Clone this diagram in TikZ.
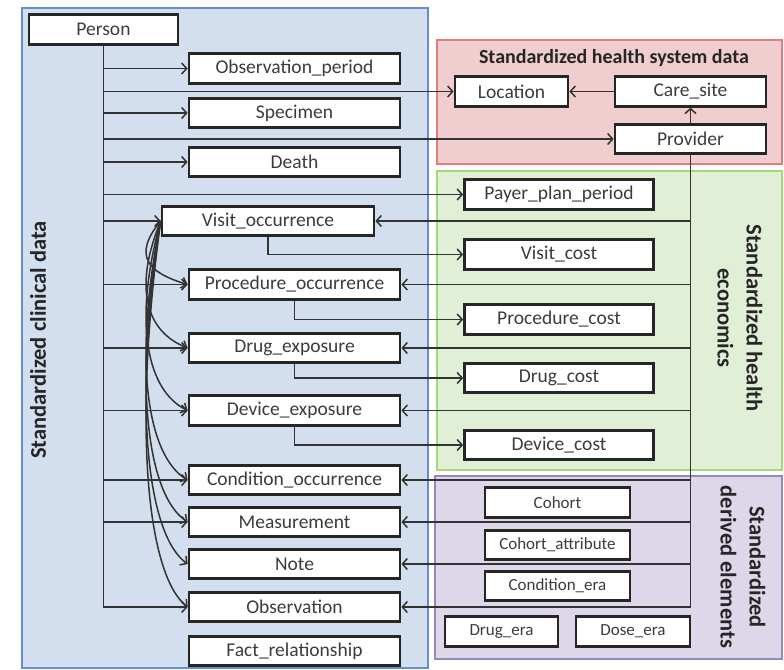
\documentclass[tikz,border=0pt]{standalone}
\usepackage{fontspec}
\setmainfont{Carlito}
\usetikzlibrary{arrows.meta,backgrounds}
\definecolor{bluefill}{RGB}{211,223,238}
\definecolor{blueedge}{RGB}{100,142,205}
\definecolor{redfill}{RGB}{240,205,207}
\definecolor{rededge}{RGB}{225,125,125}
\definecolor{greenfill}{RGB}{226,239,215}
\definecolor{greenedge}{RGB}{165,215,125}
\definecolor{purplefill}{RGB}{222,215,234}
\definecolor{purpleedge}{RGB}{150,135,190}
\definecolor{boxtext}{RGB}{60,60,60}
\begin{document}
\begin{tikzpicture}[x=1pt,y=-1pt,
  tbl/.style={draw=black!85, line width=2.7pt, fill=white, inner sep=0pt, minimum height=29.5pt, text=boxtext, font=\fontsize{19.5}{22}\selectfont},
  wide/.style={tbl, minimum width=211pt},
  cost/.style={tbl, minimum width=189pt},
  der/.style={tbl, font=\fontsize{17}{20}\selectfont},
  conn/.style={line width=1.5pt, draw=black!80},
  arr/.style={conn, -{Straight Barb[length=5pt,width=11pt]}},
  region/.style={line width=1.8pt},
  vlabel/.style={font=\bfseries\fontsize{22.5}{29}\selectfont, align=center, text=black!85},
]
\useasboundingbox (0,0) rectangle (784,669);
% regions
\filldraw[region, fill=bluefill, draw=blueedge] (22,8) rectangle (428,668);
\filldraw[region, fill=redfill, draw=rededge] (437,40) rectangle (782,164);
\filldraw[region, fill=greenfill, draw=greenedge] (437,171) rectangle (782,470);
\filldraw[region, fill=purplefill, draw=purpleedge] (435,476) rectangle (782,659);

% labels
\node[vlabel, rotate=90] (lcl) at (38,340) {Standardized clinical data};
\node[vlabel, rotate=-90] (lhe) at (740,318) {Standardized health\\economics};
\node[vlabel, rotate=-90] (lde) at (743,567) {Standardized\\derived elements};
\node[font=\bfseries\fontsize{20}{24}\selectfont, text=black!85] (ttl) at (614,58) {Standardized health system data};

% clinical nodes
\node[tbl, minimum width=149pt] (per) at (103.5,29.5) {Person};
\node[wide] (obp) at (294.5,68.5) {Observation\_period};
\node[wide] (spe) at (294.5,113) {Specimen};
\node[wide] (dea) at (294.5,162) {Death};
\node[tbl, minimum width=212pt] (vo) at (268,221) {Visit\_occurrence};
\node[wide] (po) at (294.5,284.5) {Procedure\_occurrence};
\node[wide] (dex) at (294.5,348) {Drug\_exposure};
\node[wide] (dev) at (294.5,410.5) {Device\_exposure};
\node[wide] (co) at (294.5,480) {Condition\_occurrence};
\node[wide] (me) at (294.5,522) {Measurement};
\node[wide] (no) at (294.5,564) {Note};
\node[wide] (ob) at (294.5,607) {Observation};
\node[wide] (fr) at (294.5,651) {Fact\_relationship};

% health system nodes
\node[tbl, minimum width=113pt] (loc) at (511.5,91.5) {Location};
\node[tbl, minimum width=151pt] (cs) at (690.5,91.5) {Care\_site};
\node[tbl, minimum width=151pt] (pr) at (690.5,139) {Provider};

% economics nodes
\node[cost] (pay) at (559,194.5) {Payer\_plan\_period};
\node[cost] (vc) at (559,254.5) {Visit\_cost};
\node[cost] (pc) at (559,319.5) {Procedure\_cost};
\node[cost] (dc) at (559,378) {Drug\_cost};
\node[cost] (dvc) at (559,445) {Device\_cost};

% derived nodes
\node[der, minimum width=145pt] (coh) at (557.5,502.5) {Cohort};
\node[der, minimum width=145pt] (cha) at (557.5,545) {Cohort\_attribute};
\node[der, minimum width=145pt] (cera) at (557.5,586) {Condition\_era};
\node[der, minimum width=113pt] (dera) at (501.5,631.5) {Drug\_era};
\node[der, minimum width=114pt] (dose) at (633,631.5) {Dose\_era};

% Person trunk and branches
\draw[arr] (per.south) |- (ob.west);
\foreach \t in {obp,loc,spe,pr,dea,pay,vo,po,dex,dev,co,me}{
  \draw[arr] (per.south |- \t.west) -- (\t.west);
}

% Provider trunk and branches
\draw[conn] (pr.south) -- (pr.south |- ob.east);
\foreach \t in {vo,po,dex,dev,co,me,no,ob}{
  \draw[arr] (pr.south |- \t.east) -- (\t.east);
}
\draw[arr] (pr.north) -- (cs.south);
\draw[arr] (cs.west) -- (loc.east);

% cost connectors
\draw[arr] (vo.south) |- (vc.west);
\draw[arr] (po.south) |- (pc.west);
\draw[arr] (dex.south) |- (dc.west);
\draw[arr] (dev.south) |- (dvc.west);

% visit curves
\foreach \t/\yy in {po/284.5, dex/348, dev/410.5, co/480, me/522, no/564, ob/607}{
  \draw[arr] (vo.west) .. controls (132,{221+0.55*(\yy-221)}) and (148,{\yy-0.06*(\yy-221)-8}) .. (\t.west);
}
\end{tikzpicture}
\end{document}
